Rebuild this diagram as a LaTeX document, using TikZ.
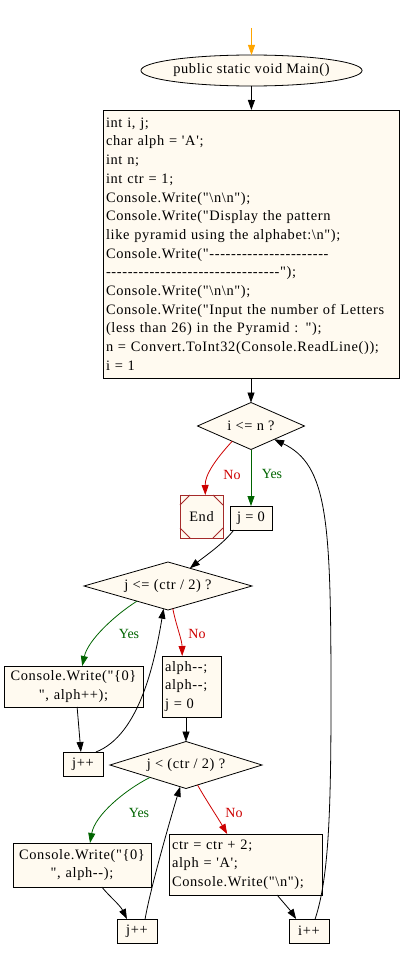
\documentclass[tikz,border=0pt]{standalone}
\usepackage{fontspec}
\newfontfamily\flowfont{Liberation Serif}[LetterSpace=4.5]
\newfontfamily\labelfont{Liberation Serif}
\usepackage{tikz}
\usetikzlibrary{shapes.geometric,arrows.meta}

\definecolor{boxfill}{HTML}{FFFAF0}
\definecolor{noline}{HTML}{CD0000}
\definecolor{yesline}{HTML}{006400}
\definecolor{endline}{HTML}{A52A2A}
\definecolor{startline}{HTML}{FFA500}

\tikzset{
	block/.style={draw, fill=boxfill, line width=0.8pt, inner sep=3pt, outer sep=0pt,
		font=\flowfont\fontsize{14.4}{18.7}\selectfont},
	decision/.style={diamond, draw, fill=boxfill, line width=0.8pt, inner sep=1pt, outer sep=0pt,
		font=\flowfont\fontsize{14.4}{18.7}\selectfont},
	flow/.style={-{Triangle[length=10pt,width=7pt]}, line width=0.8pt},
	yes label/.style={text=yesline, font=\labelfont\fontsize{14}{17}\selectfont},
	no label/.style={text=noline, font=\labelfont\fontsize{14}{17}\selectfont}
}

\begin{document}
\begin{tikzpicture}[x=1pt,y=-1pt]
\useasboundingbox (0,0) rectangle (401,958);

% Entry
\coordinate (start) at (251.5,28);

\node[block,
	ellipse,
	minimum width=177pt,
	minimum height=31pt,
	inner sep=0pt
] (main) at (251.5,70.5) {public static void Main()};

% Declarations
\node[block,
	text width=290pt,
	minimum height=268pt,
	align=left
] (init) at (251,244) {int i, j;\\
char alph = 'A';\\
int n;\\
int ctr = 1;\\
Console.Write("\textbackslash n\textbackslash n");\\
Console.Write("Display the pattern\\
like pyramid using the alphabet:\textbackslash n");\\
Console.Write("----------------------\\
--------------------------------");\\
Console.Write("\textbackslash n\textbackslash n");\\
Console.Write("Input the number of Letters\\
(less than 26) in the Pyramid : ");\\
n = Convert.ToInt32(Console.ReadLine());\\
i = 1};

% Outer loop
\node[decision,
	minimum width=107pt,
	minimum height=47pt,
	aspect=2.3
] (cond1) at (251,426) {i <= n ?};

\node[block,
	draw=endline,
	minimum width=43pt,
	minimum height=43pt,
	inner sep=0pt
] (end) at (201.5,516.5) {End};

\draw[endline, line width=0.8pt]
	([xshift=10pt]end.north west) -- ([yshift=-10pt]end.north west)
	([xshift=-10pt]end.north east) -- ([yshift=-10pt]end.north east)
	([xshift=10pt]end.south west) -- ([yshift=10pt]end.south west)
	([xshift=-10pt]end.south east) -- ([yshift=10pt]end.south east);

\node[block,
	minimum width=42pt,
	minimum height=24pt
] (j0) at (251,518) {j = 0};

% First inner loop
\node[decision,
	minimum width=168pt,
	minimum height=48pt,
	aspect=3.5
] (cond2) at (168,586) {j <= (ctr / 2) ?};

\node[block,
	text width=133pt,
	minimum height=41pt,
	align=center
] (cw1) at (73.5,686.5) {Console.Write("\{0\}\\", alph++);};

\node[block,
	text width=53pt,
	minimum height=61pt,
	align=left
] (alph) at (191.5,686.5) {alph--;\\alph--;\\j = 0};

\node[block,
	minimum width=40pt,
	minimum height=24pt
] (jpp1) at (83,764) {j++};

% Second inner loop
\node[decision,
	minimum width=152pt,
	minimum height=47pt,
	aspect=3.2
] (cond3) at (186,765) {j < (ctr / 2) ?};

\node[block,
	text width=132pt,
	minimum height=44pt,
	align=center
] (cw2) at (82,865) {Console.Write("\{0\}\\", alph--);};

\node[block,
	text width=147pt,
	minimum height=61pt,
	align=left
] (ctr) at (245.5,864.5) {ctr = ctr + 2;\\alph = 'A';\\Console.Write("\textbackslash n");};

\node[block,
	minimum width=40pt,
	minimum height=24pt
] (jpp2) at (137,931) {j++};

\node[block,
	minimum width=40pt,
	minimum height=24pt
] (ipp) at (309,931) {i++};

% Arrows with text label
\draw[flow, startline] (start) -- (main);

\draw[flow] (main) -- (init);

\draw[flow] (init) -- (cond1);

\draw[flow, noline] (cond1.219) .. controls (215,460) and (205,475) .. (end.80)
	node[no label] at (232,475) {No};

\draw[flow, yesline] (cond1) -- (j0)
	node[yes label] at (272,474) {Yes};

\draw[flow] (j0.215) .. controls (222,545) and (205,556) .. (cond2.39);

\draw[flow, yesline] (cond2.206) .. controls (115,615) and (88,640) .. (cw1.67)
	node[yes label] at (129,634) {Yes};

\draw[flow, noline] (cond2.-78) .. controls (176,625) and (182,640) .. (alph.107)
	node[no label] at (197,634) {No};

\draw[flow] (cw1.-80) -- (jpp1.100);

\draw[flow] (jpp1.43) .. controls (140,735) and (155,660) .. (cond2.-101);

\draw[flow] (cond3.north |- alph.south) -- (cond3.north);

\draw[flow, yesline] (cond3.199) .. controls (125,790) and (95,815) .. (cw2.70)
	node[yes label] at (139,813) {Yes};

\draw[flow, noline] (cond3.-60) .. controls (206,800) and (218,818) .. (ctr.121)
	node[no label] at (234,813) {No};

\draw[flow] (cw2.-48) .. controls (110,897) and (120,905) .. (jpp2.130);

\draw[flow] (jpp2.56) .. controls (150,890) and (170,820) .. (cond3.-105);

\draw[flow] (ctr.-44) .. controls (283,902) and (290,910) .. (ipp.137);

\draw[flow] (ipp.63) .. controls (328,880) and (331,820) .. (331,700)
	.. controls (331,520) and (328,465) .. (cond1.-30);

\end{tikzpicture}
\end{document}
